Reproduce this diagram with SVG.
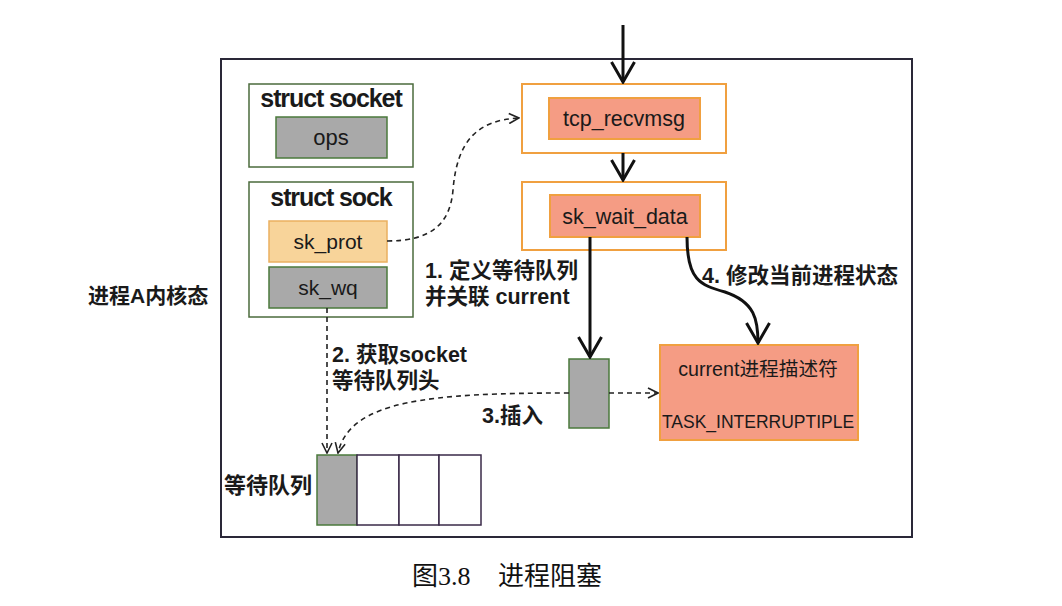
<svg xmlns="http://www.w3.org/2000/svg" width="1062" height="606" viewBox="0 0 1062 606">
<defs>
<style>
.t{font-family:"Liberation Sans","Noto Sans CJK SC",sans-serif;fill:#1a1a1a}
.b{font-weight:bold}
.frame{fill:none;stroke:#2a2838;stroke-width:2}
.gbox{fill:#fff;stroke:#4b6b3c;stroke-width:1.5}
.gray{fill:#a9a9a9;stroke:#4b7a3c;stroke-width:1.5}
.obox{fill:#fff;stroke:#f0a040;stroke-width:2}
.sal{fill:#f59c84;stroke:#f0a040;stroke-width:2}
.prot{fill:#f8d49a;stroke:#eab060;stroke-width:1.5}
.solid{fill:none;stroke:#111;stroke-width:3}
.dash{fill:none;stroke:#222;stroke-width:1.6;stroke-dasharray:5,4}
.cell{fill:#fff;stroke:#3a2a48;stroke-width:1.5}
</style>
<marker id="open" viewBox="0 0 24 26" refX="22" refY="13" markerWidth="24" markerHeight="26" markerUnits="userSpaceOnUse" orient="auto">
<path d="M2,1.5 L22,13 L2,24.5" fill="none" stroke="#111" stroke-width="3"/>
</marker>
<marker id="small" viewBox="0 0 12 12" refX="11" refY="6" markerWidth="12" markerHeight="12" markerUnits="userSpaceOnUse" orient="auto">
<path d="M1,1 L11,6 L1,11" fill="none" stroke="#222" stroke-width="1.6"/>
</marker>
</defs>
<rect width="1062" height="606" fill="#fff"/>
<rect id="frame" class="frame" x="221" y="59" width="691" height="478"/>
<text class="t b" x="88" y="303" font-size="21">进程A内核态</text>

<g id="struct-socket">
<rect class="gbox" x="249" y="84" width="164" height="83"/>
<text class="t b" x="331" y="107" font-size="25" text-anchor="middle" letter-spacing="-1.1">struct socket</text>
<rect class="gray" x="276" y="117" width="111" height="41"/>
<text class="t" x="331" y="145" font-size="22" text-anchor="middle">ops</text>
</g>

<g id="struct-sock">
<rect class="gbox" x="249" y="182" width="164" height="135"/>
<text class="t b" x="331" y="206" font-size="25" text-anchor="middle" letter-spacing="-1.1">struct sock</text>
<g id="sk_prot">
<rect class="prot" x="269" y="221" width="118" height="41"/>
<text class="t" x="328" y="249" font-size="21" text-anchor="middle">sk_prot</text>
</g>
<g id="sk_wq">
<rect class="gray" x="269" y="267" width="118" height="41"/>
<text class="t" x="328" y="295" font-size="21" text-anchor="middle">sk_wq</text>
</g>
</g>

<g id="tcp_recvmsg">
<rect class="obox" x="522" y="84" width="204" height="69"/>
<rect class="sal" x="549" y="98" width="151" height="41"/>
<text class="t" x="624" y="126" font-size="21.5" text-anchor="middle">tcp_recvmsg</text>
</g>

<g id="sk_wait_data">
<rect class="obox" x="522" y="182" width="204" height="68"/>
<rect class="sal" x="550" y="195" width="150" height="42"/>
<text class="t" x="625" y="224" font-size="21.5" text-anchor="middle">sk_wait_data</text>
</g>

<g id="wait-entry">
<rect class="gray" x="569" y="359" width="40" height="69"/>
</g>

<g id="current">
<rect class="sal" x="660" y="345" width="198" height="95"/>
<text class="t" x="758" y="376" font-size="19.7" text-anchor="middle">current进程描述符</text>
<text class="t" x="758" y="428" font-size="17.5" text-anchor="middle">TASK_INTERRUPTIPLE</text>
</g>

<g id="wait-queue">
<rect class="gray" x="317" y="455" width="40" height="70"/>
<rect class="cell" x="357" y="455" width="42" height="70"/>
<rect class="cell" x="399" y="455" width="40" height="70"/>
<rect class="cell" x="439" y="455" width="42" height="70"/>
<text class="t b" x="224" y="493" font-size="22">等待队列</text>
</g>

<g id="connectors">
<path class="solid" d="M623,25 L623,82" marker-end="url(#open)"/>
<path class="solid" d="M623,153 L623,180" marker-end="url(#open)"/>
<path class="solid" d="M590,237 L590,357" marker-end="url(#open)"/>
<path class="solid" d="M687,237 C687,280 700,285 725,292 C755,302 758,320 758,343" marker-end="url(#open)"/>
<path class="dash" d="M387,241 C430,241 450,225 453,190 C457,140 478,120 519,118" marker-end="url(#small)"/>
<path class="dash" d="M327,308 L327,453" marker-end="url(#small)"/>
<path class="dash" d="M569,393 C430,393 350,400 338,453" marker-end="url(#small)"/>
<path class="dash" d="M609,393 L658,393" marker-end="url(#small)"/>
</g>

<g id="labels">
<text class="t b" x="425" y="278" font-size="21.5">1. 定义等待队列</text>
<text class="t b" x="425" y="304" font-size="21.5">并关联 current</text>
<text class="t b" x="332" y="362" font-size="21.5">2. 获取socket</text>
<text class="t b" x="332" y="388" font-size="21.5">等待队列头</text>
<text class="t b" x="482" y="423" font-size="21.5">3.插入</text>
<text class="t b" x="702" y="283" font-size="21.5">4. 修改当前进程状态</text>
</g>

<text x="412" y="585" font-size="26" font-family="'Liberation Serif','Noto Sans CJK SC',serif" fill="#111">图3.8<tspan x="498">进程阻塞</tspan></text>
</svg>
